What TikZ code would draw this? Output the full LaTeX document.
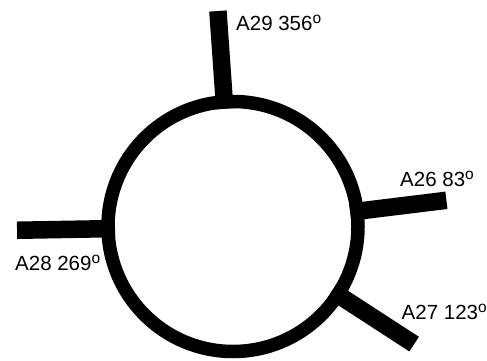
\documentclass[tikz,border=0pt]{standalone}
\usepackage{fontspec}
\setmainfont{Liberation Sans}
\usetikzlibrary{calc}
\newcommand{\degsym}{\raisebox{6.8pt}{\fontsize{15.5}{15.5}\selectfont o}}
\tikzset{
  ring/.style={circle, draw=black, line width=13.5pt, minimum size=250pt, inner sep=0pt},
  spoke/.style={line width=17.5pt, line cap=butt, shorten <=118pt},
  lbl/.style={anchor=base west, inner sep=0pt, font=\fontsize{20.5}{24}\selectfont}
}
\begin{document}
\begin{tikzpicture}[x=1pt,y=1pt]
\useasboundingbox (0,0) rectangle (487,360);
\node[ring] (c) at (233,133.5) {};
\coordinate (e29) at ($(c.center)+(94:216)$);
\coordinate (e26) at ($(c.center)+(7:215)$);
\coordinate (e28) at ($(c.center)+(181:216)$);
\coordinate (e27) at ($(c.center)+(-33:216)$);
\draw[spoke] (c.center) -- (e29);
\draw[spoke] (c.center) -- (e26);
\draw[spoke] (c.center) -- (e28);
\draw[spoke] (c.center) -- (e27);
\node[lbl] (t29) at (236,330) {A29 356\degsym};
\node[lbl] (t26) at (400,174) {A26 83\degsym};
\node[lbl] (t28) at (15,90) {A28 269\degsym};
\node[lbl] (t27) at (401.5,40.7) {A27 123\degsym};
\end{tikzpicture}
\end{document}
